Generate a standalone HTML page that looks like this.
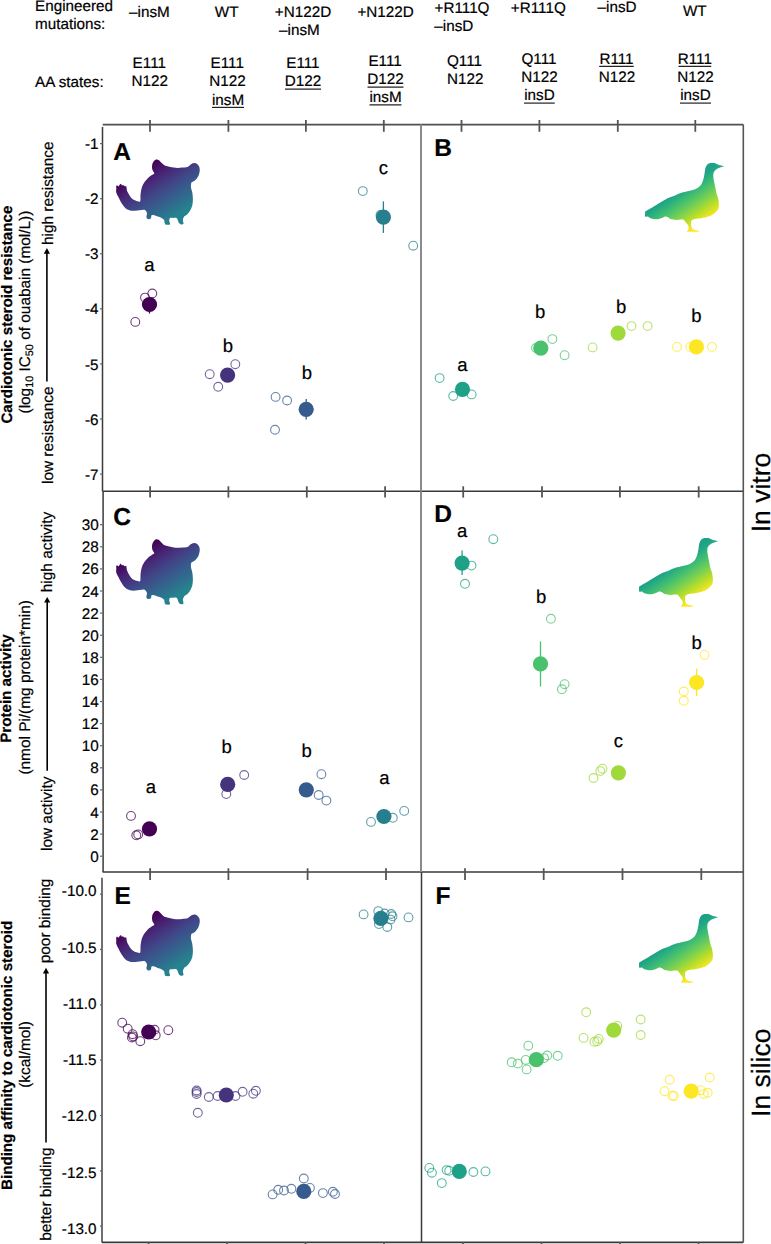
<!DOCTYPE html><html><head><meta charset="utf-8"><style>html,body{margin:0;padding:0;background:#fff;}svg{display:block;} text{font-family:"Liberation Sans", sans-serif;fill:#000;stroke:#000;stroke-width:0.2px;text-rendering:geometricPrecision;}</style></head><body>
<svg width="771" height="1244" viewBox="0 0 771 1244">
<defs>
<linearGradient id="gc" gradientUnits="userSpaceOnUse" x1="143.2" y1="169.2" x2="173.0" y2="216.6"><stop offset="0" stop-color="#440154"/><stop offset="0.233" stop-color="#482475"/><stop offset="0.465" stop-color="#414487"/><stop offset="0.698" stop-color="#355F8D"/><stop offset="0.93" stop-color="#2A788E"/><stop offset="1" stop-color="#26828E"/></linearGradient>
<linearGradient id="gg" gradientUnits="userSpaceOnUse" x1="688.8" y1="183.2" x2="711.8" y2="217.0"><stop offset="0" stop-color="#1FA187"/><stop offset="0.07" stop-color="#22A884"/><stop offset="0.30" stop-color="#44BF70"/><stop offset="0.535" stop-color="#7AD151"/><stop offset="0.767" stop-color="#BDDF26"/><stop offset="1" stop-color="#FDE725"/></linearGradient>
</defs>
<rect width="771" height="1244" fill="#fff"/>
<text x="35" y="10.7" font-size="15.25" text-anchor="start" font-weight="normal">Engineered</text>
<text x="35" y="28.6" font-size="15.25" text-anchor="start" font-weight="normal">mutations:</text>
<text x="35" y="86.8" font-size="15.25" text-anchor="start" font-weight="normal">AA states:</text>
<text x="149.4" y="17.2" font-size="15.25" text-anchor="middle" font-weight="normal">–insM</text>
<text x="149.3" y="68" font-size="15.25" text-anchor="middle" font-weight="normal">E111</text>
<text x="149.8" y="86.3" font-size="15.25" text-anchor="middle" font-weight="normal">N122</text>
<text x="226.6" y="17.2" font-size="15.25" text-anchor="middle" font-weight="normal">WT</text>
<text x="227.2" y="67.9" font-size="15.25" text-anchor="middle" font-weight="normal">E111</text>
<text x="227.5" y="86.2" font-size="15.25" text-anchor="middle" font-weight="normal">N122</text>
<text x="228" y="104.5" font-size="15.25" text-anchor="middle" font-weight="normal">insM</text>
<line x1="212" y1="107.4" x2="244" y2="107.4" stroke="#222" stroke-width="1.2"/>
<text x="303" y="16.5" font-size="15.25" text-anchor="middle" font-weight="normal">+N122D</text>
<text x="279.1" y="34.7" font-size="15.25" text-anchor="start" font-weight="normal">–insM</text>
<text x="302.9" y="68" font-size="15.25" text-anchor="middle" font-weight="normal">E111</text>
<text x="303" y="85.7" font-size="15.25" text-anchor="middle" font-weight="normal">D122</text>
<line x1="285" y1="89.2" x2="321" y2="89.2" stroke="#222" stroke-width="1.2"/>
<text x="385.6" y="16.6" font-size="15.25" text-anchor="middle" font-weight="normal">+N122D</text>
<text x="385.1" y="66.4" font-size="15.25" text-anchor="middle" font-weight="normal">E111</text>
<text x="385.5" y="84" font-size="15.25" text-anchor="middle" font-weight="normal">D122</text>
<line x1="367.5" y1="87.1" x2="403.5" y2="87.1" stroke="#222" stroke-width="1.2"/>
<text x="385.5" y="102.3" font-size="15.25" text-anchor="middle" font-weight="normal">insM</text>
<line x1="369.5" y1="104.9" x2="401.5" y2="104.9" stroke="#222" stroke-width="1.2"/>
<text x="462" y="12.7" font-size="15.25" text-anchor="middle" font-weight="normal">+R111Q</text>
<text x="434.3" y="30.7" font-size="15.25" text-anchor="start" font-weight="normal">–insD</text>
<text x="464.5" y="65.5" font-size="15.25" text-anchor="middle" font-weight="normal">Q111</text>
<text x="465.2" y="83.7" font-size="15.25" text-anchor="middle" font-weight="normal">N122</text>
<text x="538.3" y="12.6" font-size="15.25" text-anchor="middle" font-weight="normal">+R111Q</text>
<text x="539" y="63.6" font-size="15.25" text-anchor="middle" font-weight="normal">Q111</text>
<text x="539.5" y="81.7" font-size="15.25" text-anchor="middle" font-weight="normal">N122</text>
<text x="539.4" y="99.9" font-size="15.25" text-anchor="middle" font-weight="normal">insD</text>
<line x1="524" y1="103.1" x2="554.7" y2="103.1" stroke="#222" stroke-width="1.2"/>
<text x="617.1" y="11.9" font-size="15.25" text-anchor="middle" font-weight="normal">–insD</text>
<text x="616.5" y="63.6" font-size="15.25" text-anchor="middle" font-weight="normal">R111</text>
<line x1="599.2" y1="66.4" x2="633.8" y2="66.4" stroke="#222" stroke-width="1.2"/>
<text x="616.9" y="81.5" font-size="15.25" text-anchor="middle" font-weight="normal">N122</text>
<text x="694.8" y="15.8" font-size="15.25" text-anchor="middle" font-weight="normal">WT</text>
<text x="694.8" y="63.6" font-size="15.25" text-anchor="middle" font-weight="normal">R111</text>
<line x1="678.5" y1="66.4" x2="711.2" y2="66.4" stroke="#222" stroke-width="1.2"/>
<text x="695.5" y="81.5" font-size="15.25" text-anchor="middle" font-weight="normal">N122</text>
<text x="695.4" y="99.9" font-size="15.25" text-anchor="middle" font-weight="normal">insD</text>
<line x1="680" y1="103.1" x2="711" y2="103.1" stroke="#222" stroke-width="1.2"/>
<line x1="102.7" y1="124.6" x2="743.3" y2="124.6" stroke="#505050" stroke-width="1.6"/>
<line x1="102.5" y1="127" x2="102.5" y2="491.2" stroke="#3a3a3a" stroke-width="1.5"/>
<line x1="103.1" y1="491.2" x2="103.1" y2="872" stroke="#3a3a3a" stroke-width="1.5"/>
<line x1="102" y1="877.7" x2="102" y2="1242.4" stroke="#707070" stroke-width="2"/>
<line x1="102.5" y1="491.2" x2="743.3" y2="491.2" stroke="#3a3a3a" stroke-width="1.5"/>
<line x1="102.5" y1="872.1" x2="743.3" y2="872.1" stroke="#3a3a3a" stroke-width="1.5"/>
<line x1="102" y1="1242.4" x2="743.3" y2="1242.4" stroke="#3a3a3a" stroke-width="1.6"/>
<line x1="421" y1="124.6" x2="421" y2="491.2" stroke="#8a8a8a" stroke-width="2"/>
<line x1="421" y1="491.2" x2="421" y2="872" stroke="#8a8a8a" stroke-width="2"/>
<line x1="421.5" y1="872" x2="421.5" y2="1242.4" stroke="#3a3a3a" stroke-width="1.5"/>
<line x1="743.3" y1="124.6" x2="743.3" y2="1242.4" stroke="#555" stroke-width="1.6"/>
<line x1="150" y1="120" x2="150" y2="131.8" stroke="#555" stroke-width="1.8"/>
<line x1="228.4" y1="120" x2="228.4" y2="131.8" stroke="#555" stroke-width="1.8"/>
<line x1="305.9" y1="120" x2="305.9" y2="131.8" stroke="#555" stroke-width="1.8"/>
<line x1="383.8" y1="120" x2="383.8" y2="131.8" stroke="#555" stroke-width="1.8"/>
<line x1="461.5" y1="120" x2="461.5" y2="131.8" stroke="#555" stroke-width="1.8"/>
<line x1="539.4" y1="120" x2="539.4" y2="131.8" stroke="#555" stroke-width="1.8"/>
<line x1="617.8" y1="120" x2="617.8" y2="131.8" stroke="#555" stroke-width="1.8"/>
<line x1="695.3" y1="120" x2="695.3" y2="131.8" stroke="#555" stroke-width="1.8"/>
<line x1="150.1" y1="486.3" x2="150.1" y2="497.6" stroke="#555" stroke-width="1.8"/>
<line x1="228.4" y1="486.3" x2="228.4" y2="497.6" stroke="#555" stroke-width="1.8"/>
<line x1="306.8" y1="486.3" x2="306.8" y2="497.6" stroke="#555" stroke-width="1.8"/>
<line x1="385.1" y1="486.3" x2="385.1" y2="497.6" stroke="#555" stroke-width="1.8"/>
<line x1="463.2" y1="486.3" x2="463.2" y2="497.6" stroke="#555" stroke-width="1.8"/>
<line x1="542" y1="486.3" x2="542" y2="497.6" stroke="#555" stroke-width="1.8"/>
<line x1="619.9" y1="486.3" x2="619.9" y2="497.6" stroke="#555" stroke-width="1.8"/>
<line x1="698.7" y1="486.3" x2="698.7" y2="497.6" stroke="#555" stroke-width="1.8"/>
<line x1="150.1" y1="868.3" x2="150.1" y2="880" stroke="#555" stroke-width="1.8"/>
<line x1="228.4" y1="868.3" x2="228.4" y2="880" stroke="#555" stroke-width="1.8"/>
<line x1="307.6" y1="868.3" x2="307.6" y2="880" stroke="#555" stroke-width="1.8"/>
<line x1="386" y1="868.3" x2="386" y2="880" stroke="#555" stroke-width="1.8"/>
<line x1="465" y1="868.3" x2="465" y2="880" stroke="#555" stroke-width="1.8"/>
<line x1="543.7" y1="868.3" x2="543.7" y2="880" stroke="#555" stroke-width="1.8"/>
<line x1="622.5" y1="868.3" x2="622.5" y2="880" stroke="#555" stroke-width="1.8"/>
<line x1="701.3" y1="868.3" x2="701.3" y2="880" stroke="#555" stroke-width="1.8"/>
<line x1="148.6" y1="1242" x2="148.6" y2="1246" stroke="#555" stroke-width="1.8"/>
<line x1="227" y1="1242" x2="227" y2="1246" stroke="#555" stroke-width="1.8"/>
<line x1="305.5" y1="1242" x2="305.5" y2="1246" stroke="#555" stroke-width="1.8"/>
<line x1="384" y1="1242" x2="384" y2="1246" stroke="#555" stroke-width="1.8"/>
<line x1="463" y1="1242" x2="463" y2="1246" stroke="#555" stroke-width="1.8"/>
<line x1="541.5" y1="1242" x2="541.5" y2="1246" stroke="#555" stroke-width="1.8"/>
<line x1="620" y1="1242" x2="620" y2="1246" stroke="#555" stroke-width="1.8"/>
<line x1="698.5" y1="1242" x2="698.5" y2="1246" stroke="#555" stroke-width="1.8"/>
<line x1="100" y1="143.6" x2="102.5" y2="143.6" stroke="#666" stroke-width="1.2"/>
<text x="98.6" y="149.2" font-size="15.25" text-anchor="end" font-weight="normal">-1</text>
<line x1="100" y1="198.68" x2="102.5" y2="198.68" stroke="#666" stroke-width="1.2"/>
<text x="98.6" y="204.3" font-size="15.25" text-anchor="end" font-weight="normal">-2</text>
<line x1="100" y1="253.76" x2="102.5" y2="253.76" stroke="#666" stroke-width="1.2"/>
<text x="98.6" y="259.4" font-size="15.25" text-anchor="end" font-weight="normal">-3</text>
<line x1="100" y1="308.84000000000003" x2="102.5" y2="308.84000000000003" stroke="#666" stroke-width="1.2"/>
<text x="98.6" y="314.4" font-size="15.25" text-anchor="end" font-weight="normal">-4</text>
<line x1="100" y1="363.91999999999996" x2="102.5" y2="363.91999999999996" stroke="#666" stroke-width="1.2"/>
<text x="98.6" y="369.5" font-size="15.25" text-anchor="end" font-weight="normal">-5</text>
<line x1="100" y1="419.0" x2="102.5" y2="419.0" stroke="#666" stroke-width="1.2"/>
<text x="98.6" y="424.6" font-size="15.25" text-anchor="end" font-weight="normal">-6</text>
<line x1="100" y1="474.08000000000004" x2="102.5" y2="474.08000000000004" stroke="#666" stroke-width="1.2"/>
<text x="98.6" y="479.7" font-size="15.25" text-anchor="end" font-weight="normal">-7</text>
<line x1="100" y1="524.7" x2="102.5" y2="524.7" stroke="#666" stroke-width="1.2"/>
<text x="98.8" y="530.2" font-size="15.25" text-anchor="end" font-weight="normal">30</text>
<line x1="100" y1="546.8000000000001" x2="102.5" y2="546.8000000000001" stroke="#666" stroke-width="1.2"/>
<text x="98.8" y="552.3" font-size="15.25" text-anchor="end" font-weight="normal">28</text>
<line x1="100" y1="568.9000000000001" x2="102.5" y2="568.9000000000001" stroke="#666" stroke-width="1.2"/>
<text x="98.8" y="574.4" font-size="15.25" text-anchor="end" font-weight="normal">26</text>
<line x1="100" y1="591.0" x2="102.5" y2="591.0" stroke="#666" stroke-width="1.2"/>
<text x="98.8" y="596.5" font-size="15.25" text-anchor="end" font-weight="normal">24</text>
<line x1="100" y1="613.1" x2="102.5" y2="613.1" stroke="#666" stroke-width="1.2"/>
<text x="98.8" y="618.6" font-size="15.25" text-anchor="end" font-weight="normal">22</text>
<line x1="100" y1="635.2" x2="102.5" y2="635.2" stroke="#666" stroke-width="1.2"/>
<text x="98.8" y="640.7" font-size="15.25" text-anchor="end" font-weight="normal">20</text>
<line x1="100" y1="657.3000000000001" x2="102.5" y2="657.3000000000001" stroke="#666" stroke-width="1.2"/>
<text x="98.8" y="662.8" font-size="15.25" text-anchor="end" font-weight="normal">18</text>
<line x1="100" y1="679.4000000000001" x2="102.5" y2="679.4000000000001" stroke="#666" stroke-width="1.2"/>
<text x="98.8" y="684.9" font-size="15.25" text-anchor="end" font-weight="normal">16</text>
<line x1="100" y1="701.5" x2="102.5" y2="701.5" stroke="#666" stroke-width="1.2"/>
<text x="98.8" y="707.0" font-size="15.25" text-anchor="end" font-weight="normal">14</text>
<line x1="100" y1="723.6" x2="102.5" y2="723.6" stroke="#666" stroke-width="1.2"/>
<text x="98.8" y="729.1" font-size="15.25" text-anchor="end" font-weight="normal">12</text>
<line x1="100" y1="745.7" x2="102.5" y2="745.7" stroke="#666" stroke-width="1.2"/>
<text x="98.8" y="751.2" font-size="15.25" text-anchor="end" font-weight="normal">10</text>
<line x1="100" y1="767.8000000000001" x2="102.5" y2="767.8000000000001" stroke="#666" stroke-width="1.2"/>
<text x="98.8" y="773.3" font-size="15.25" text-anchor="end" font-weight="normal">8</text>
<line x1="100" y1="789.9000000000001" x2="102.5" y2="789.9000000000001" stroke="#666" stroke-width="1.2"/>
<text x="98.8" y="795.4" font-size="15.25" text-anchor="end" font-weight="normal">6</text>
<line x1="100" y1="812.0" x2="102.5" y2="812.0" stroke="#666" stroke-width="1.2"/>
<text x="98.8" y="817.5" font-size="15.25" text-anchor="end" font-weight="normal">4</text>
<line x1="100" y1="834.1000000000001" x2="102.5" y2="834.1000000000001" stroke="#666" stroke-width="1.2"/>
<text x="98.8" y="839.6" font-size="15.25" text-anchor="end" font-weight="normal">2</text>
<line x1="100" y1="856.2" x2="102.5" y2="856.2" stroke="#666" stroke-width="1.2"/>
<text x="98.8" y="861.7" font-size="15.25" text-anchor="end" font-weight="normal">0</text>
<line x1="100" y1="894.1" x2="102" y2="894.1" stroke="#666" stroke-width="1.2"/>
<text x="96.6" y="896.3" font-size="15.25" text-anchor="end" font-weight="normal">-10.0</text>
<line x1="100" y1="949.45" x2="102" y2="949.45" stroke="#666" stroke-width="1.2"/>
<text x="96.6" y="952.5" font-size="15.25" text-anchor="end" font-weight="normal">-10.5</text>
<line x1="100" y1="1004.8000000000001" x2="102" y2="1004.8000000000001" stroke="#666" stroke-width="1.2"/>
<text x="96.6" y="1008.8" font-size="15.25" text-anchor="end" font-weight="normal">-11.0</text>
<line x1="100" y1="1060.15" x2="102" y2="1060.15" stroke="#666" stroke-width="1.2"/>
<text x="96.6" y="1065.0" font-size="15.25" text-anchor="end" font-weight="normal">-11.5</text>
<line x1="100" y1="1115.5" x2="102" y2="1115.5" stroke="#666" stroke-width="1.2"/>
<text x="96.6" y="1121.3" font-size="15.25" text-anchor="end" font-weight="normal">-12.0</text>
<line x1="100" y1="1170.85" x2="102" y2="1170.85" stroke="#666" stroke-width="1.2"/>
<text x="96.6" y="1177.5" font-size="15.25" text-anchor="end" font-weight="normal">-12.5</text>
<line x1="100" y1="1226.2" x2="102" y2="1226.2" stroke="#666" stroke-width="1.2"/>
<text x="96.6" y="1233.8" font-size="15.25" text-anchor="end" font-weight="normal">-13.0</text>
<text transform="translate(12,423.6) rotate(-90)" font-size="15.15" font-weight="bold" text-anchor="start">Cardiotonic steroid resistance</text>
<text transform="translate(30.2,413.5) rotate(-90)" font-size="15.4" font-weight="normal" text-anchor="start">(log<tspan font-size="10.8" dy="3">10</tspan><tspan dy="-3"> IC</tspan><tspan font-size="10.8" dy="3">50</tspan><tspan dy="-3"> of ouabain (mol/L))</tspan></text>
<text transform="translate(52.8,484) rotate(-90)" font-size="15.4" font-weight="normal" text-anchor="start">low resistance</text>
<line x1="46.9" y1="381.4" x2="46.9" y2="252.1" stroke="#000" stroke-width="1.6"/>
<path d="M43.8,253.7 L46.9,248.1 L50.0,253.7 Z" fill="#000"/>
<text transform="translate(52.6,245) rotate(-90)" font-size="15.4" font-weight="normal" text-anchor="start">high resistance</text>
<text transform="translate(10.9,742.8) rotate(-90)" font-size="15.15" font-weight="bold" text-anchor="start">Protein activity</text>
<text transform="translate(29.5,774.6) rotate(-90)" font-size="15.4" font-weight="normal" text-anchor="start">(nmol Pi/(mg protein*min)</text>
<text transform="translate(52.3,851) rotate(-90)" font-size="15.4" font-weight="normal" text-anchor="start">low activity</text>
<line x1="47.2" y1="770.8" x2="47.2" y2="600.9" stroke="#000" stroke-width="1.6"/>
<path d="M44.1,602.5 L47.2,596.9 L50.300000000000004,602.5 Z" fill="#000"/>
<text transform="translate(52,592.2) rotate(-90)" font-size="15.4" font-weight="normal" text-anchor="start">high activity</text>
<text transform="translate(12.1,1190) rotate(-90)" font-size="15.15" font-weight="bold" text-anchor="start">Binding affinity to cardiotonic steroid</text>
<text transform="translate(29.7,1087.8) rotate(-90)" font-size="15.4" font-weight="normal" text-anchor="start">(kcal/mol)</text>
<text transform="translate(50.5,1240.8) rotate(-90)" font-size="15.4" font-weight="normal" text-anchor="start">better binding</text>
<line x1="46" y1="1142.6" x2="46" y2="971.8" stroke="#000" stroke-width="1.6"/>
<path d="M42.9,973.4 L46,967.8 L49.1,973.4 Z" fill="#000"/>
<text transform="translate(50,963.3) rotate(-90)" font-size="15.4" font-weight="normal" text-anchor="start">poor binding</text>
<text transform="translate(770.3,492.5) rotate(-90)" font-size="26.5" font-weight="normal" text-anchor="middle">In vitro</text>
<text transform="translate(770.3,1072.7) rotate(-90)" font-size="26.5" font-weight="normal" text-anchor="middle">In silico</text>
<text x="113.3" y="159.8" font-size="24.5" text-anchor="start" font-weight="bold">A</text>
<text x="434.3" y="155.7" font-size="24.5" text-anchor="start" font-weight="bold">B</text>
<text x="113.2" y="525.3" font-size="24.5" text-anchor="start" font-weight="bold">C</text>
<text x="434.2" y="521.7" font-size="24.5" text-anchor="start" font-weight="bold">D</text>
<text x="114.5" y="903.9" font-size="24.5" text-anchor="start" font-weight="bold">E</text>
<text x="435.6" y="903.9" font-size="24.5" text-anchor="start" font-weight="bold">F</text>
<path transform="translate(0,0)" d="M152.2,164.7 C152.5,163.3 153.4,161.7 154.2,160.8 C154.9,159.9 156.0,159.6 156.7,159.5 C157.4,159.4 157.9,159.7 158.5,160.0 C159.1,160.3 159.5,160.8 160.2,161.5 C160.9,162.2 161.9,163.4 162.8,164.1 C163.7,164.8 164.3,165.3 165.4,165.7 C166.5,166.1 167.9,166.4 169.3,166.7 C170.7,167.0 172.4,167.4 173.8,167.6 C175.2,167.8 176.3,168.0 177.7,168.0 C179.1,168.0 180.7,167.7 182.2,167.6 C183.7,167.5 185.7,167.5 186.8,167.3 C187.9,167.1 188.0,166.8 188.7,166.3 C189.3,165.8 189.8,164.9 190.7,164.4 C191.6,163.9 192.8,163.2 193.9,163.1 C195.0,163.0 196.3,163.4 197.2,164.1 C198.1,164.8 199.0,166.1 199.4,167.3 C199.8,168.5 199.8,169.8 199.7,171.2 C199.5,172.6 199.1,174.4 198.5,175.8 C197.9,177.2 196.8,178.6 195.9,179.6 C195.0,180.6 194.1,181.0 193.3,181.6 C192.5,182.2 191.7,181.9 191.3,182.9 C190.9,183.9 190.8,185.8 191.0,187.4 C191.2,189.0 192.0,190.7 192.3,192.6 C192.6,194.5 192.9,196.9 192.9,199.1 C192.9,201.3 192.8,203.6 192.3,205.6 C191.8,207.6 190.9,209.3 190.0,210.8 C189.1,212.3 187.8,213.7 186.8,214.7 C185.8,215.7 184.8,215.7 184.2,216.6 C183.5,217.5 183.0,218.7 182.9,219.9 C182.8,221.1 183.8,222.9 183.5,223.7 C183.2,224.4 181.7,224.5 180.9,224.4 C180.2,224.3 179.5,223.8 179.0,223.1 C178.5,222.3 178.1,220.8 177.7,219.9 C177.3,219.0 177.2,218.2 176.4,217.9 C175.7,217.6 174.3,217.9 173.2,217.9 C172.1,217.9 170.6,217.7 169.9,218.2 C169.2,218.7 169.3,220.1 169.3,221.1 C169.3,222.1 170.5,223.8 169.9,224.4 C169.3,225.0 166.9,224.9 166.0,224.7 C165.1,224.5 165.0,223.9 164.7,223.1 C164.4,222.3 164.6,220.8 164.1,219.9 C163.6,219.0 162.6,218.5 161.5,217.9 C160.4,217.3 158.8,217.0 157.6,216.6 C156.4,216.2 155.2,215.5 154.2,215.3 C153.2,215.1 152.1,214.8 151.6,215.3 C151.1,215.8 151.4,217.5 150.9,218.2 C150.4,218.8 149.1,219.3 148.3,219.2 C147.6,219.0 146.6,218.3 146.4,217.3 C146.2,216.3 147.1,214.5 147.0,213.4 C146.9,212.3 146.1,211.4 145.7,210.8 C145.3,210.2 145.0,209.9 144.4,209.8 C143.8,209.7 143.1,209.9 142.0,210.0 C140.9,210.1 139.1,210.3 137.7,210.4 C136.3,210.5 134.7,210.8 133.4,210.8 C132.1,210.8 131.0,210.6 130.0,210.4 C129.0,210.2 128.3,210.0 127.4,209.5 C126.5,209.0 125.6,208.2 124.8,207.4 C124.0,206.6 123.4,205.8 122.7,204.8 C122.0,203.8 121.3,202.7 120.6,201.4 C119.9,200.1 119.1,198.5 118.4,197.1 C117.7,195.7 116.7,194.2 116.3,192.8 C115.9,191.4 116.3,189.7 116.3,188.6 C116.3,187.5 116.1,186.5 116.3,186.0 C116.5,185.5 117.2,185.5 117.6,185.6 C117.9,185.7 118.0,186.7 118.4,186.5 C118.8,186.3 119.6,184.7 120.1,184.3 C120.6,183.9 120.9,183.9 121.2,184.1 C121.5,184.3 121.5,185.2 121.8,185.4 C122.1,185.6 122.6,184.9 123.1,185.1 C123.6,185.2 124.3,186.2 124.8,186.3 C125.3,186.5 125.8,185.7 126.1,186.0 C126.4,186.3 126.4,187.3 126.6,188.1 C126.8,188.9 126.7,189.8 127.0,190.7 C127.3,191.6 127.8,192.4 128.3,193.3 C128.8,194.2 129.4,195.4 130.0,196.3 C130.6,197.2 131.4,198.2 132.1,198.8 C132.8,199.4 133.6,199.7 134.3,200.1 C135.0,200.5 135.7,200.8 136.4,201.0 C137.1,201.2 137.8,201.4 138.5,201.4 C139.2,201.4 140.0,202.2 140.3,201.0 C140.7,199.8 140.3,196.2 140.6,193.9 C140.8,191.6 141.2,189.4 141.8,187.4 C142.4,185.4 143.3,183.8 144.4,182.2 C145.5,180.6 146.9,179.0 148.3,177.7 C149.7,176.4 151.9,175.2 152.9,174.5 C153.9,173.8 154.3,174.1 154.2,173.2 C154.1,172.3 152.5,170.7 152.2,169.3 C151.9,167.9 151.9,166.1 152.2,164.7Z" fill="url(#gc)"/>
<path transform="translate(0,379.85)" d="M152.2,164.7 C152.5,163.3 153.4,161.7 154.2,160.8 C154.9,159.9 156.0,159.6 156.7,159.5 C157.4,159.4 157.9,159.7 158.5,160.0 C159.1,160.3 159.5,160.8 160.2,161.5 C160.9,162.2 161.9,163.4 162.8,164.1 C163.7,164.8 164.3,165.3 165.4,165.7 C166.5,166.1 167.9,166.4 169.3,166.7 C170.7,167.0 172.4,167.4 173.8,167.6 C175.2,167.8 176.3,168.0 177.7,168.0 C179.1,168.0 180.7,167.7 182.2,167.6 C183.7,167.5 185.7,167.5 186.8,167.3 C187.9,167.1 188.0,166.8 188.7,166.3 C189.3,165.8 189.8,164.9 190.7,164.4 C191.6,163.9 192.8,163.2 193.9,163.1 C195.0,163.0 196.3,163.4 197.2,164.1 C198.1,164.8 199.0,166.1 199.4,167.3 C199.8,168.5 199.8,169.8 199.7,171.2 C199.5,172.6 199.1,174.4 198.5,175.8 C197.9,177.2 196.8,178.6 195.9,179.6 C195.0,180.6 194.1,181.0 193.3,181.6 C192.5,182.2 191.7,181.9 191.3,182.9 C190.9,183.9 190.8,185.8 191.0,187.4 C191.2,189.0 192.0,190.7 192.3,192.6 C192.6,194.5 192.9,196.9 192.9,199.1 C192.9,201.3 192.8,203.6 192.3,205.6 C191.8,207.6 190.9,209.3 190.0,210.8 C189.1,212.3 187.8,213.7 186.8,214.7 C185.8,215.7 184.8,215.7 184.2,216.6 C183.5,217.5 183.0,218.7 182.9,219.9 C182.8,221.1 183.8,222.9 183.5,223.7 C183.2,224.4 181.7,224.5 180.9,224.4 C180.2,224.3 179.5,223.8 179.0,223.1 C178.5,222.3 178.1,220.8 177.7,219.9 C177.3,219.0 177.2,218.2 176.4,217.9 C175.7,217.6 174.3,217.9 173.2,217.9 C172.1,217.9 170.6,217.7 169.9,218.2 C169.2,218.7 169.3,220.1 169.3,221.1 C169.3,222.1 170.5,223.8 169.9,224.4 C169.3,225.0 166.9,224.9 166.0,224.7 C165.1,224.5 165.0,223.9 164.7,223.1 C164.4,222.3 164.6,220.8 164.1,219.9 C163.6,219.0 162.6,218.5 161.5,217.9 C160.4,217.3 158.8,217.0 157.6,216.6 C156.4,216.2 155.2,215.5 154.2,215.3 C153.2,215.1 152.1,214.8 151.6,215.3 C151.1,215.8 151.4,217.5 150.9,218.2 C150.4,218.8 149.1,219.3 148.3,219.2 C147.6,219.0 146.6,218.3 146.4,217.3 C146.2,216.3 147.1,214.5 147.0,213.4 C146.9,212.3 146.1,211.4 145.7,210.8 C145.3,210.2 145.0,209.9 144.4,209.8 C143.8,209.7 143.1,209.9 142.0,210.0 C140.9,210.1 139.1,210.3 137.7,210.4 C136.3,210.5 134.7,210.8 133.4,210.8 C132.1,210.8 131.0,210.6 130.0,210.4 C129.0,210.2 128.3,210.0 127.4,209.5 C126.5,209.0 125.6,208.2 124.8,207.4 C124.0,206.6 123.4,205.8 122.7,204.8 C122.0,203.8 121.3,202.7 120.6,201.4 C119.9,200.1 119.1,198.5 118.4,197.1 C117.7,195.7 116.7,194.2 116.3,192.8 C115.9,191.4 116.3,189.7 116.3,188.6 C116.3,187.5 116.1,186.5 116.3,186.0 C116.5,185.5 117.2,185.5 117.6,185.6 C117.9,185.7 118.0,186.7 118.4,186.5 C118.8,186.3 119.6,184.7 120.1,184.3 C120.6,183.9 120.9,183.9 121.2,184.1 C121.5,184.3 121.5,185.2 121.8,185.4 C122.1,185.6 122.6,184.9 123.1,185.1 C123.6,185.2 124.3,186.2 124.8,186.3 C125.3,186.5 125.8,185.7 126.1,186.0 C126.4,186.3 126.4,187.3 126.6,188.1 C126.8,188.9 126.7,189.8 127.0,190.7 C127.3,191.6 127.8,192.4 128.3,193.3 C128.8,194.2 129.4,195.4 130.0,196.3 C130.6,197.2 131.4,198.2 132.1,198.8 C132.8,199.4 133.6,199.7 134.3,200.1 C135.0,200.5 135.7,200.8 136.4,201.0 C137.1,201.2 137.8,201.4 138.5,201.4 C139.2,201.4 140.0,202.2 140.3,201.0 C140.7,199.8 140.3,196.2 140.6,193.9 C140.8,191.6 141.2,189.4 141.8,187.4 C142.4,185.4 143.3,183.8 144.4,182.2 C145.5,180.6 146.9,179.0 148.3,177.7 C149.7,176.4 151.9,175.2 152.9,174.5 C153.9,173.8 154.3,174.1 154.2,173.2 C154.1,172.3 152.5,170.7 152.2,169.3 C151.9,167.9 151.9,166.1 152.2,164.7Z" fill="url(#gc)"/>
<path transform="translate(0,751.3)" d="M152.2,164.7 C152.5,163.3 153.4,161.7 154.2,160.8 C154.9,159.9 156.0,159.6 156.7,159.5 C157.4,159.4 157.9,159.7 158.5,160.0 C159.1,160.3 159.5,160.8 160.2,161.5 C160.9,162.2 161.9,163.4 162.8,164.1 C163.7,164.8 164.3,165.3 165.4,165.7 C166.5,166.1 167.9,166.4 169.3,166.7 C170.7,167.0 172.4,167.4 173.8,167.6 C175.2,167.8 176.3,168.0 177.7,168.0 C179.1,168.0 180.7,167.7 182.2,167.6 C183.7,167.5 185.7,167.5 186.8,167.3 C187.9,167.1 188.0,166.8 188.7,166.3 C189.3,165.8 189.8,164.9 190.7,164.4 C191.6,163.9 192.8,163.2 193.9,163.1 C195.0,163.0 196.3,163.4 197.2,164.1 C198.1,164.8 199.0,166.1 199.4,167.3 C199.8,168.5 199.8,169.8 199.7,171.2 C199.5,172.6 199.1,174.4 198.5,175.8 C197.9,177.2 196.8,178.6 195.9,179.6 C195.0,180.6 194.1,181.0 193.3,181.6 C192.5,182.2 191.7,181.9 191.3,182.9 C190.9,183.9 190.8,185.8 191.0,187.4 C191.2,189.0 192.0,190.7 192.3,192.6 C192.6,194.5 192.9,196.9 192.9,199.1 C192.9,201.3 192.8,203.6 192.3,205.6 C191.8,207.6 190.9,209.3 190.0,210.8 C189.1,212.3 187.8,213.7 186.8,214.7 C185.8,215.7 184.8,215.7 184.2,216.6 C183.5,217.5 183.0,218.7 182.9,219.9 C182.8,221.1 183.8,222.9 183.5,223.7 C183.2,224.4 181.7,224.5 180.9,224.4 C180.2,224.3 179.5,223.8 179.0,223.1 C178.5,222.3 178.1,220.8 177.7,219.9 C177.3,219.0 177.2,218.2 176.4,217.9 C175.7,217.6 174.3,217.9 173.2,217.9 C172.1,217.9 170.6,217.7 169.9,218.2 C169.2,218.7 169.3,220.1 169.3,221.1 C169.3,222.1 170.5,223.8 169.9,224.4 C169.3,225.0 166.9,224.9 166.0,224.7 C165.1,224.5 165.0,223.9 164.7,223.1 C164.4,222.3 164.6,220.8 164.1,219.9 C163.6,219.0 162.6,218.5 161.5,217.9 C160.4,217.3 158.8,217.0 157.6,216.6 C156.4,216.2 155.2,215.5 154.2,215.3 C153.2,215.1 152.1,214.8 151.6,215.3 C151.1,215.8 151.4,217.5 150.9,218.2 C150.4,218.8 149.1,219.3 148.3,219.2 C147.6,219.0 146.6,218.3 146.4,217.3 C146.2,216.3 147.1,214.5 147.0,213.4 C146.9,212.3 146.1,211.4 145.7,210.8 C145.3,210.2 145.0,209.9 144.4,209.8 C143.8,209.7 143.1,209.9 142.0,210.0 C140.9,210.1 139.1,210.3 137.7,210.4 C136.3,210.5 134.7,210.8 133.4,210.8 C132.1,210.8 131.0,210.6 130.0,210.4 C129.0,210.2 128.3,210.0 127.4,209.5 C126.5,209.0 125.6,208.2 124.8,207.4 C124.0,206.6 123.4,205.8 122.7,204.8 C122.0,203.8 121.3,202.7 120.6,201.4 C119.9,200.1 119.1,198.5 118.4,197.1 C117.7,195.7 116.7,194.2 116.3,192.8 C115.9,191.4 116.3,189.7 116.3,188.6 C116.3,187.5 116.1,186.5 116.3,186.0 C116.5,185.5 117.2,185.5 117.6,185.6 C117.9,185.7 118.0,186.7 118.4,186.5 C118.8,186.3 119.6,184.7 120.1,184.3 C120.6,183.9 120.9,183.9 121.2,184.1 C121.5,184.3 121.5,185.2 121.8,185.4 C122.1,185.6 122.6,184.9 123.1,185.1 C123.6,185.2 124.3,186.2 124.8,186.3 C125.3,186.5 125.8,185.7 126.1,186.0 C126.4,186.3 126.4,187.3 126.6,188.1 C126.8,188.9 126.7,189.8 127.0,190.7 C127.3,191.6 127.8,192.4 128.3,193.3 C128.8,194.2 129.4,195.4 130.0,196.3 C130.6,197.2 131.4,198.2 132.1,198.8 C132.8,199.4 133.6,199.7 134.3,200.1 C135.0,200.5 135.7,200.8 136.4,201.0 C137.1,201.2 137.8,201.4 138.5,201.4 C139.2,201.4 140.0,202.2 140.3,201.0 C140.7,199.8 140.3,196.2 140.6,193.9 C140.8,191.6 141.2,189.4 141.8,187.4 C142.4,185.4 143.3,183.8 144.4,182.2 C145.5,180.6 146.9,179.0 148.3,177.7 C149.7,176.4 151.9,175.2 152.9,174.5 C153.9,173.8 154.3,174.1 154.2,173.2 C154.1,172.3 152.5,170.7 152.2,169.3 C151.9,167.9 151.9,166.1 152.2,164.7Z" fill="url(#gc)"/>
<path transform="translate(0,0)" d="M645.2,212.1 C645.4,211.1 645.2,211.7 646.5,210.8 C647.8,209.9 650.8,208.2 653.0,206.9 C655.2,205.6 657.1,204.4 659.5,203.0 C661.9,201.6 664.5,199.8 667.2,198.5 C669.9,197.2 673.6,196.1 675.7,195.2 C677.8,194.3 678.2,193.9 680.0,193.3 C681.8,192.7 684.3,192.2 686.5,191.6 C688.7,191.0 691.0,190.7 693.0,190.0 C695.0,189.3 696.8,188.4 698.2,187.4 C699.6,186.4 700.5,185.5 701.4,184.2 C702.2,182.9 702.8,181.4 703.3,179.6 C703.8,177.8 704.3,175.0 704.6,173.2 C704.9,171.4 704.9,170.0 705.3,168.6 C705.7,167.2 706.3,165.6 707.2,164.7 C708.1,163.8 709.3,163.4 710.5,163.1 C711.7,162.8 713.1,162.8 714.4,163.1 C715.7,163.4 716.7,164.2 718.3,164.7 C719.9,165.2 723.6,165.9 724.1,166.3 C724.6,166.7 722.6,166.6 721.5,167.0 C720.4,167.4 718.7,168.0 717.6,168.6 C716.5,169.2 715.7,169.7 715.0,170.6 C714.3,171.5 713.6,172.3 713.4,173.8 C713.2,175.3 713.4,177.6 713.7,179.6 C714.0,181.6 714.6,183.9 715.0,186.1 C715.4,188.3 715.8,190.4 716.3,192.6 C716.8,194.8 717.9,196.9 718.3,199.1 C718.7,201.3 719.0,203.8 718.9,205.6 C718.8,207.4 718.5,208.7 717.6,210.1 C716.7,211.5 715.2,212.9 713.7,214.0 C712.2,215.1 710.5,215.9 708.5,216.6 C706.5,217.3 703.7,217.8 701.4,218.2 C699.1,218.6 696.5,218.5 694.9,218.9 C693.3,219.3 692.4,219.7 691.7,220.5 C691.1,221.3 691.0,222.5 691.0,223.7 C691.0,224.9 691.3,226.6 691.7,227.6 C692.1,228.6 692.3,229.0 693.6,229.6 C694.9,230.2 699.6,230.8 699.5,231.2 C699.4,231.6 695.1,231.8 693.0,231.8 C690.9,231.9 687.9,231.9 687.1,231.5 C686.3,231.1 688.2,230.6 688.4,229.6 C688.6,228.6 688.8,226.9 688.4,225.7 C688.0,224.5 686.5,223.4 685.8,222.4 C685.0,221.4 684.6,220.4 683.9,219.9 C683.2,219.4 682.8,219.5 681.5,219.5 C680.2,219.5 678.1,220.0 676.3,219.9 C674.5,219.8 671.9,219.3 670.5,218.9 C669.1,218.5 668.8,217.7 667.9,217.3 C667.0,216.9 666.4,216.4 665.3,216.6 C664.2,216.8 662.9,217.8 661.4,218.2 C659.9,218.6 658.0,219.2 656.2,219.2 C654.4,219.2 651.8,218.6 650.4,218.2 C649.0,217.8 648.7,216.9 647.8,216.6 C646.9,216.3 645.6,217.3 645.2,216.6 C644.8,215.8 645.0,213.1 645.2,212.1Z" fill="url(#gg)"/>
<path transform="translate(-6,375)" d="M645.2,212.1 C645.4,211.1 645.2,211.7 646.5,210.8 C647.8,209.9 650.8,208.2 653.0,206.9 C655.2,205.6 657.1,204.4 659.5,203.0 C661.9,201.6 664.5,199.8 667.2,198.5 C669.9,197.2 673.6,196.1 675.7,195.2 C677.8,194.3 678.2,193.9 680.0,193.3 C681.8,192.7 684.3,192.2 686.5,191.6 C688.7,191.0 691.0,190.7 693.0,190.0 C695.0,189.3 696.8,188.4 698.2,187.4 C699.6,186.4 700.5,185.5 701.4,184.2 C702.2,182.9 702.8,181.4 703.3,179.6 C703.8,177.8 704.3,175.0 704.6,173.2 C704.9,171.4 704.9,170.0 705.3,168.6 C705.7,167.2 706.3,165.6 707.2,164.7 C708.1,163.8 709.3,163.4 710.5,163.1 C711.7,162.8 713.1,162.8 714.4,163.1 C715.7,163.4 716.7,164.2 718.3,164.7 C719.9,165.2 723.6,165.9 724.1,166.3 C724.6,166.7 722.6,166.6 721.5,167.0 C720.4,167.4 718.7,168.0 717.6,168.6 C716.5,169.2 715.7,169.7 715.0,170.6 C714.3,171.5 713.6,172.3 713.4,173.8 C713.2,175.3 713.4,177.6 713.7,179.6 C714.0,181.6 714.6,183.9 715.0,186.1 C715.4,188.3 715.8,190.4 716.3,192.6 C716.8,194.8 717.9,196.9 718.3,199.1 C718.7,201.3 719.0,203.8 718.9,205.6 C718.8,207.4 718.5,208.7 717.6,210.1 C716.7,211.5 715.2,212.9 713.7,214.0 C712.2,215.1 710.5,215.9 708.5,216.6 C706.5,217.3 703.7,217.8 701.4,218.2 C699.1,218.6 696.5,218.5 694.9,218.9 C693.3,219.3 692.4,219.7 691.7,220.5 C691.1,221.3 691.0,222.5 691.0,223.7 C691.0,224.9 691.3,226.6 691.7,227.6 C692.1,228.6 692.3,229.0 693.6,229.6 C694.9,230.2 699.6,230.8 699.5,231.2 C699.4,231.6 695.1,231.8 693.0,231.8 C690.9,231.9 687.9,231.9 687.1,231.5 C686.3,231.1 688.2,230.6 688.4,229.6 C688.6,228.6 688.8,226.9 688.4,225.7 C688.0,224.5 686.5,223.4 685.8,222.4 C685.0,221.4 684.6,220.4 683.9,219.9 C683.2,219.4 682.8,219.5 681.5,219.5 C680.2,219.5 678.1,220.0 676.3,219.9 C674.5,219.8 671.9,219.3 670.5,218.9 C669.1,218.5 668.8,217.7 667.9,217.3 C667.0,216.9 666.4,216.4 665.3,216.6 C664.2,216.8 662.9,217.8 661.4,218.2 C659.9,218.6 658.0,219.2 656.2,219.2 C654.4,219.2 651.8,218.6 650.4,218.2 C649.0,217.8 648.7,216.9 647.8,216.6 C646.9,216.3 645.6,217.3 645.2,216.6 C644.8,215.8 645.0,213.1 645.2,212.1Z" fill="url(#gg)"/>
<path transform="translate(-6,751)" d="M645.2,212.1 C645.4,211.1 645.2,211.7 646.5,210.8 C647.8,209.9 650.8,208.2 653.0,206.9 C655.2,205.6 657.1,204.4 659.5,203.0 C661.9,201.6 664.5,199.8 667.2,198.5 C669.9,197.2 673.6,196.1 675.7,195.2 C677.8,194.3 678.2,193.9 680.0,193.3 C681.8,192.7 684.3,192.2 686.5,191.6 C688.7,191.0 691.0,190.7 693.0,190.0 C695.0,189.3 696.8,188.4 698.2,187.4 C699.6,186.4 700.5,185.5 701.4,184.2 C702.2,182.9 702.8,181.4 703.3,179.6 C703.8,177.8 704.3,175.0 704.6,173.2 C704.9,171.4 704.9,170.0 705.3,168.6 C705.7,167.2 706.3,165.6 707.2,164.7 C708.1,163.8 709.3,163.4 710.5,163.1 C711.7,162.8 713.1,162.8 714.4,163.1 C715.7,163.4 716.7,164.2 718.3,164.7 C719.9,165.2 723.6,165.9 724.1,166.3 C724.6,166.7 722.6,166.6 721.5,167.0 C720.4,167.4 718.7,168.0 717.6,168.6 C716.5,169.2 715.7,169.7 715.0,170.6 C714.3,171.5 713.6,172.3 713.4,173.8 C713.2,175.3 713.4,177.6 713.7,179.6 C714.0,181.6 714.6,183.9 715.0,186.1 C715.4,188.3 715.8,190.4 716.3,192.6 C716.8,194.8 717.9,196.9 718.3,199.1 C718.7,201.3 719.0,203.8 718.9,205.6 C718.8,207.4 718.5,208.7 717.6,210.1 C716.7,211.5 715.2,212.9 713.7,214.0 C712.2,215.1 710.5,215.9 708.5,216.6 C706.5,217.3 703.7,217.8 701.4,218.2 C699.1,218.6 696.5,218.5 694.9,218.9 C693.3,219.3 692.4,219.7 691.7,220.5 C691.1,221.3 691.0,222.5 691.0,223.7 C691.0,224.9 691.3,226.6 691.7,227.6 C692.1,228.6 692.3,229.0 693.6,229.6 C694.9,230.2 699.6,230.8 699.5,231.2 C699.4,231.6 695.1,231.8 693.0,231.8 C690.9,231.9 687.9,231.9 687.1,231.5 C686.3,231.1 688.2,230.6 688.4,229.6 C688.6,228.6 688.8,226.9 688.4,225.7 C688.0,224.5 686.5,223.4 685.8,222.4 C685.0,221.4 684.6,220.4 683.9,219.9 C683.2,219.4 682.8,219.5 681.5,219.5 C680.2,219.5 678.1,220.0 676.3,219.9 C674.5,219.8 671.9,219.3 670.5,218.9 C669.1,218.5 668.8,217.7 667.9,217.3 C667.0,216.9 666.4,216.4 665.3,216.6 C664.2,216.8 662.9,217.8 661.4,218.2 C659.9,218.6 658.0,219.2 656.2,219.2 C654.4,219.2 651.8,218.6 650.4,218.2 C649.0,217.8 648.7,216.9 647.8,216.6 C646.9,216.3 645.6,217.3 645.2,216.6 C644.8,215.8 645.0,213.1 645.2,212.1Z" fill="url(#gg)"/>
<circle cx="152.3" cy="293.5" r="4.4" fill="none" stroke="#440154" stroke-width="1.1" stroke-opacity="0.75"/>
<circle cx="145" cy="297.6" r="4.4" fill="none" stroke="#440154" stroke-width="1.1" stroke-opacity="0.75"/>
<circle cx="135.3" cy="321.9" r="4.4" fill="none" stroke="#440154" stroke-width="1.1" stroke-opacity="0.75"/>
<line x1="149.5" y1="297" x2="149.5" y2="313.5" stroke="#440154" stroke-width="1.3"/>
<circle cx="149.5" cy="304.5" r="7.6" fill="#440154"/>
<text x="149.4" y="271" font-size="18.5" text-anchor="middle" font-weight="normal">a</text>
<circle cx="209.7" cy="374.2" r="4.4" fill="none" stroke="#46337E" stroke-width="1.1" stroke-opacity="0.75"/>
<circle cx="235.3" cy="364.2" r="4.4" fill="none" stroke="#46337E" stroke-width="1.1" stroke-opacity="0.75"/>
<circle cx="218.2" cy="386.8" r="4.4" fill="none" stroke="#46337E" stroke-width="1.1" stroke-opacity="0.75"/>
<circle cx="227.6" cy="375.1" r="7.6" fill="#46337E"/>
<text x="228" y="352" font-size="18.5" text-anchor="middle" font-weight="normal">b</text>
<circle cx="275.6" cy="396.9" r="4.4" fill="none" stroke="#365C8D" stroke-width="1.1" stroke-opacity="0.75"/>
<circle cx="287.1" cy="400.5" r="4.4" fill="none" stroke="#365C8D" stroke-width="1.1" stroke-opacity="0.75"/>
<circle cx="275" cy="429.8" r="4.4" fill="none" stroke="#365C8D" stroke-width="1.1" stroke-opacity="0.75"/>
<line x1="306.2" y1="398.9" x2="306.2" y2="419.4" stroke="#365C8D" stroke-width="1.3"/>
<circle cx="306.2" cy="409.3" r="7.6" fill="#365C8D"/>
<text x="307" y="378.5" font-size="18.5" text-anchor="middle" font-weight="normal">b</text>
<circle cx="362.8" cy="191.1" r="4.4" fill="none" stroke="#277F8E" stroke-width="1.1" stroke-opacity="0.75"/>
<circle cx="413.2" cy="245.7" r="4.4" fill="none" stroke="#277F8E" stroke-width="1.1" stroke-opacity="0.75"/>
<circle cx="380.5" cy="215" r="4.4" fill="none" stroke="#277F8E" stroke-width="1.1" stroke-opacity="0.75"/>
<line x1="383.4" y1="201.4" x2="383.4" y2="232.9" stroke="#277F8E" stroke-width="1.3"/>
<circle cx="383.4" cy="217.1" r="7.6" fill="#277F8E"/>
<text x="383.4" y="173.7" font-size="18.5" text-anchor="middle" font-weight="normal">c</text>
<circle cx="439.6" cy="378.1" r="4.4" fill="none" stroke="#1FA187" stroke-width="1.1" stroke-opacity="0.75"/>
<circle cx="453.2" cy="396" r="4.4" fill="none" stroke="#1FA187" stroke-width="1.1" stroke-opacity="0.75"/>
<circle cx="471.6" cy="394.4" r="4.4" fill="none" stroke="#1FA187" stroke-width="1.1" stroke-opacity="0.75"/>
<circle cx="462.5" cy="389.3" r="7.6" fill="#1FA187"/>
<text x="462.5" y="371" font-size="18.5" text-anchor="middle" font-weight="normal">a</text>
<circle cx="552.4" cy="339.1" r="4.4" fill="none" stroke="#4AC16D" stroke-width="1.1" stroke-opacity="0.75"/>
<circle cx="564.6" cy="355.2" r="4.4" fill="none" stroke="#4AC16D" stroke-width="1.1" stroke-opacity="0.75"/>
<circle cx="536" cy="348" r="4.4" fill="none" stroke="#4AC16D" stroke-width="1.1" stroke-opacity="0.75"/>
<circle cx="540.8" cy="348.2" r="7.6" fill="#4AC16D"/>
<text x="540.2" y="317.8" font-size="18.5" text-anchor="middle" font-weight="normal">b</text>
<circle cx="592.6" cy="347.4" r="4.4" fill="none" stroke="#9FDA3A" stroke-width="1.1" stroke-opacity="0.75"/>
<circle cx="631.5" cy="326.1" r="4.4" fill="none" stroke="#9FDA3A" stroke-width="1.1" stroke-opacity="0.75"/>
<circle cx="647.6" cy="326.1" r="4.4" fill="none" stroke="#9FDA3A" stroke-width="1.1" stroke-opacity="0.75"/>
<circle cx="618.1" cy="333.1" r="7.6" fill="#9FDA3A"/>
<text x="621.2" y="312.6" font-size="18.5" text-anchor="middle" font-weight="normal">b</text>
<circle cx="677" cy="346.9" r="4.4" fill="none" stroke="#FDE725" stroke-width="1.1" stroke-opacity="0.75"/>
<circle cx="712" cy="346.9" r="4.4" fill="none" stroke="#FDE725" stroke-width="1.1" stroke-opacity="0.75"/>
<circle cx="690.2" cy="346.9" r="4.4" fill="none" stroke="#FDE725" stroke-width="1.1" stroke-opacity="0.75"/>
<circle cx="696.4" cy="346.9" r="7.6" fill="#FDE725"/>
<text x="696.4" y="321.7" font-size="18.5" text-anchor="middle" font-weight="normal">b</text>
<circle cx="131" cy="815.9" r="4.4" fill="none" stroke="#440154" stroke-width="1.1" stroke-opacity="0.75"/>
<circle cx="136.3" cy="835.3" r="4.4" fill="none" stroke="#440154" stroke-width="1.1" stroke-opacity="0.75"/>
<circle cx="138.2" cy="834.4" r="4.4" fill="none" stroke="#440154" stroke-width="1.1" stroke-opacity="0.75"/>
<circle cx="149.5" cy="828.9" r="7.6" fill="#440154"/>
<text x="150.9" y="792.5" font-size="18.5" text-anchor="middle" font-weight="normal">a</text>
<circle cx="244.2" cy="775" r="4.4" fill="none" stroke="#46337E" stroke-width="1.1" stroke-opacity="0.75"/>
<circle cx="226.3" cy="794.1" r="4.4" fill="none" stroke="#46337E" stroke-width="1.1" stroke-opacity="0.75"/>
<circle cx="227.7" cy="784.4" r="7.6" fill="#46337E"/>
<text x="226.7" y="752.6" font-size="18.5" text-anchor="middle" font-weight="normal">b</text>
<circle cx="321.4" cy="774.2" r="4.4" fill="none" stroke="#365C8D" stroke-width="1.1" stroke-opacity="0.75"/>
<circle cx="318.7" cy="795" r="4.4" fill="none" stroke="#365C8D" stroke-width="1.1" stroke-opacity="0.75"/>
<circle cx="326.4" cy="800.6" r="4.4" fill="none" stroke="#365C8D" stroke-width="1.1" stroke-opacity="0.75"/>
<circle cx="306.3" cy="789.8" r="7.6" fill="#365C8D"/>
<text x="306.7" y="757" font-size="18.5" text-anchor="middle" font-weight="normal">b</text>
<circle cx="371" cy="821.9" r="4.4" fill="none" stroke="#277F8E" stroke-width="1.1" stroke-opacity="0.75"/>
<circle cx="392.8" cy="817.8" r="4.4" fill="none" stroke="#277F8E" stroke-width="1.1" stroke-opacity="0.75"/>
<circle cx="404.2" cy="810.9" r="4.4" fill="none" stroke="#277F8E" stroke-width="1.1" stroke-opacity="0.75"/>
<circle cx="383.9" cy="816.5" r="7.6" fill="#277F8E"/>
<text x="384.5" y="784.4" font-size="18.5" text-anchor="middle" font-weight="normal">a</text>
<circle cx="493.3" cy="539.2" r="4.4" fill="none" stroke="#1FA187" stroke-width="1.1" stroke-opacity="0.75"/>
<circle cx="471.5" cy="565.6" r="4.4" fill="none" stroke="#1FA187" stroke-width="1.1" stroke-opacity="0.75"/>
<circle cx="465" cy="583.8" r="4.4" fill="none" stroke="#1FA187" stroke-width="1.1" stroke-opacity="0.75"/>
<line x1="462.1" y1="550.6" x2="462.1" y2="574.9" stroke="#1FA187" stroke-width="1.3"/>
<circle cx="462.1" cy="563.1" r="7.6" fill="#1FA187"/>
<text x="462.1" y="536.5" font-size="18.5" text-anchor="middle" font-weight="normal">a</text>
<circle cx="550.9" cy="618.8" r="4.4" fill="none" stroke="#4AC16D" stroke-width="1.1" stroke-opacity="0.75"/>
<circle cx="564.6" cy="684.2" r="4.4" fill="none" stroke="#4AC16D" stroke-width="1.1" stroke-opacity="0.75"/>
<circle cx="561.9" cy="689.3" r="4.4" fill="none" stroke="#4AC16D" stroke-width="1.1" stroke-opacity="0.75"/>
<line x1="540.5" y1="641.4" x2="540.5" y2="686.5" stroke="#4AC16D" stroke-width="1.3"/>
<circle cx="540.5" cy="663.9" r="7.6" fill="#4AC16D"/>
<text x="541.2" y="603.2" font-size="18.5" text-anchor="middle" font-weight="normal">b</text>
<circle cx="593.5" cy="778" r="4.4" fill="none" stroke="#9FDA3A" stroke-width="1.1" stroke-opacity="0.75"/>
<circle cx="600.3" cy="771.1" r="4.4" fill="none" stroke="#9FDA3A" stroke-width="1.1" stroke-opacity="0.75"/>
<circle cx="602.4" cy="768.7" r="4.4" fill="none" stroke="#9FDA3A" stroke-width="1.1" stroke-opacity="0.75"/>
<circle cx="618.4" cy="772.8" r="7.6" fill="#9FDA3A"/>
<text x="618.4" y="746.9" font-size="18.5" text-anchor="middle" font-weight="normal">c</text>
<circle cx="704.5" cy="654.9" r="4.4" fill="none" stroke="#FDE725" stroke-width="1.1" stroke-opacity="0.75"/>
<circle cx="683.8" cy="691.5" r="4.4" fill="none" stroke="#FDE725" stroke-width="1.1" stroke-opacity="0.75"/>
<circle cx="683.8" cy="700.8" r="4.4" fill="none" stroke="#FDE725" stroke-width="1.1" stroke-opacity="0.75"/>
<line x1="696.6" y1="668.6" x2="696.6" y2="696" stroke="#FDE725" stroke-width="1.3"/>
<circle cx="696.6" cy="682.5" r="7.6" fill="#FDE725"/>
<text x="696.6" y="649.3" font-size="18.5" text-anchor="middle" font-weight="normal">b</text>
<circle cx="122.2" cy="1022.7" r="4.4" fill="none" stroke="#440154" stroke-width="1.1" stroke-opacity="0.75"/>
<circle cx="127.7" cy="1028.7" r="4.4" fill="none" stroke="#440154" stroke-width="1.1" stroke-opacity="0.75"/>
<circle cx="132.6" cy="1034.2" r="4.4" fill="none" stroke="#440154" stroke-width="1.1" stroke-opacity="0.75"/>
<circle cx="131.9" cy="1037.5" r="4.4" fill="none" stroke="#440154" stroke-width="1.1" stroke-opacity="0.75"/>
<circle cx="133.2" cy="1036.4" r="4.4" fill="none" stroke="#440154" stroke-width="1.1" stroke-opacity="0.75"/>
<circle cx="140.3" cy="1041.2" r="4.4" fill="none" stroke="#440154" stroke-width="1.1" stroke-opacity="0.75"/>
<circle cx="154.6" cy="1029.8" r="4.4" fill="none" stroke="#440154" stroke-width="1.1" stroke-opacity="0.75"/>
<circle cx="155.7" cy="1035.3" r="4.4" fill="none" stroke="#440154" stroke-width="1.1" stroke-opacity="0.75"/>
<circle cx="168.3" cy="1030.2" r="4.4" fill="none" stroke="#440154" stroke-width="1.1" stroke-opacity="0.75"/>
<circle cx="148.7" cy="1032" r="7.6" fill="#440154"/>
<circle cx="196.6" cy="1090.5" r="4.4" fill="none" stroke="#46337E" stroke-width="1.1" stroke-opacity="0.75"/>
<circle cx="196.6" cy="1092" r="4.4" fill="none" stroke="#46337E" stroke-width="1.1" stroke-opacity="0.75"/>
<circle cx="196.6" cy="1094" r="4.4" fill="none" stroke="#46337E" stroke-width="1.1" stroke-opacity="0.75"/>
<circle cx="208.8" cy="1097" r="4.4" fill="none" stroke="#46337E" stroke-width="1.1" stroke-opacity="0.75"/>
<circle cx="217.6" cy="1096" r="4.4" fill="none" stroke="#46337E" stroke-width="1.1" stroke-opacity="0.75"/>
<circle cx="235.5" cy="1096" r="4.4" fill="none" stroke="#46337E" stroke-width="1.1" stroke-opacity="0.75"/>
<circle cx="242.6" cy="1091.8" r="4.4" fill="none" stroke="#46337E" stroke-width="1.1" stroke-opacity="0.75"/>
<circle cx="253.3" cy="1093.7" r="4.4" fill="none" stroke="#46337E" stroke-width="1.1" stroke-opacity="0.75"/>
<circle cx="255.9" cy="1090.8" r="4.4" fill="none" stroke="#46337E" stroke-width="1.1" stroke-opacity="0.75"/>
<circle cx="197.8" cy="1112.8" r="4.4" fill="none" stroke="#46337E" stroke-width="1.1" stroke-opacity="0.75"/>
<circle cx="226.3" cy="1095" r="7.6" fill="#46337E"/>
<circle cx="303.8" cy="1178.5" r="4.4" fill="none" stroke="#365C8D" stroke-width="1.1" stroke-opacity="0.75"/>
<circle cx="309.9" cy="1187.9" r="4.4" fill="none" stroke="#365C8D" stroke-width="1.1" stroke-opacity="0.75"/>
<circle cx="291.4" cy="1188.8" r="4.4" fill="none" stroke="#365C8D" stroke-width="1.1" stroke-opacity="0.75"/>
<circle cx="284" cy="1190.5" r="4.4" fill="none" stroke="#365C8D" stroke-width="1.1" stroke-opacity="0.75"/>
<circle cx="278.2" cy="1189.8" r="4.4" fill="none" stroke="#365C8D" stroke-width="1.1" stroke-opacity="0.75"/>
<circle cx="272.6" cy="1194.4" r="4.4" fill="none" stroke="#365C8D" stroke-width="1.1" stroke-opacity="0.75"/>
<circle cx="322.9" cy="1193.1" r="4.4" fill="none" stroke="#365C8D" stroke-width="1.1" stroke-opacity="0.75"/>
<circle cx="332.9" cy="1191.8" r="4.4" fill="none" stroke="#365C8D" stroke-width="1.1" stroke-opacity="0.75"/>
<circle cx="335" cy="1194" r="4.4" fill="none" stroke="#365C8D" stroke-width="1.1" stroke-opacity="0.75"/>
<circle cx="303.8" cy="1191.4" r="7.6" fill="#365C8D"/>
<circle cx="363.6" cy="914.4" r="4.4" fill="none" stroke="#277F8E" stroke-width="1.1" stroke-opacity="0.75"/>
<circle cx="408.5" cy="917.4" r="4.4" fill="none" stroke="#277F8E" stroke-width="1.1" stroke-opacity="0.75"/>
<circle cx="378.3" cy="911.1" r="4.4" fill="none" stroke="#277F8E" stroke-width="1.1" stroke-opacity="0.75"/>
<circle cx="384.7" cy="913.5" r="4.4" fill="none" stroke="#277F8E" stroke-width="1.1" stroke-opacity="0.75"/>
<circle cx="391.2" cy="914" r="4.4" fill="none" stroke="#277F8E" stroke-width="1.1" stroke-opacity="0.75"/>
<circle cx="392.5" cy="916.3" r="4.4" fill="none" stroke="#277F8E" stroke-width="1.1" stroke-opacity="0.75"/>
<circle cx="390.6" cy="919.6" r="4.4" fill="none" stroke="#277F8E" stroke-width="1.1" stroke-opacity="0.75"/>
<circle cx="387.3" cy="927" r="4.4" fill="none" stroke="#277F8E" stroke-width="1.1" stroke-opacity="0.75"/>
<circle cx="378.9" cy="924.1" r="4.4" fill="none" stroke="#277F8E" stroke-width="1.1" stroke-opacity="0.75"/>
<circle cx="380.9" cy="918.3" r="7.6" fill="#277F8E"/>
<circle cx="429.3" cy="1167.9" r="4.4" fill="none" stroke="#1FA187" stroke-width="1.1" stroke-opacity="0.75"/>
<circle cx="431.9" cy="1172.7" r="4.4" fill="none" stroke="#1FA187" stroke-width="1.1" stroke-opacity="0.75"/>
<circle cx="441.8" cy="1183.1" r="4.4" fill="none" stroke="#1FA187" stroke-width="1.1" stroke-opacity="0.75"/>
<circle cx="446.6" cy="1170.1" r="4.4" fill="none" stroke="#1FA187" stroke-width="1.1" stroke-opacity="0.75"/>
<circle cx="449.2" cy="1170.8" r="4.4" fill="none" stroke="#1FA187" stroke-width="1.1" stroke-opacity="0.75"/>
<circle cx="473.4" cy="1172" r="4.4" fill="none" stroke="#1FA187" stroke-width="1.1" stroke-opacity="0.75"/>
<circle cx="485.5" cy="1171.4" r="4.4" fill="none" stroke="#1FA187" stroke-width="1.1" stroke-opacity="0.75"/>
<circle cx="459.3" cy="1171.4" r="7.6" fill="#1FA187"/>
<circle cx="528.3" cy="1045.7" r="4.4" fill="none" stroke="#4AC16D" stroke-width="1.1" stroke-opacity="0.75"/>
<circle cx="511.7" cy="1062.3" r="4.4" fill="none" stroke="#4AC16D" stroke-width="1.1" stroke-opacity="0.75"/>
<circle cx="517.9" cy="1063.6" r="4.4" fill="none" stroke="#4AC16D" stroke-width="1.1" stroke-opacity="0.75"/>
<circle cx="525.7" cy="1059.9" r="4.4" fill="none" stroke="#4AC16D" stroke-width="1.1" stroke-opacity="0.75"/>
<circle cx="526.6" cy="1069.4" r="4.4" fill="none" stroke="#4AC16D" stroke-width="1.1" stroke-opacity="0.75"/>
<circle cx="544.1" cy="1058.1" r="4.4" fill="none" stroke="#4AC16D" stroke-width="1.1" stroke-opacity="0.75"/>
<circle cx="547.3" cy="1055.5" r="4.4" fill="none" stroke="#4AC16D" stroke-width="1.1" stroke-opacity="0.75"/>
<circle cx="557.7" cy="1055.8" r="4.4" fill="none" stroke="#4AC16D" stroke-width="1.1" stroke-opacity="0.75"/>
<circle cx="536.3" cy="1059.7" r="7.6" fill="#4AC16D"/>
<circle cx="586.2" cy="1012.3" r="4.4" fill="none" stroke="#9FDA3A" stroke-width="1.1" stroke-opacity="0.75"/>
<circle cx="583.6" cy="1037.9" r="4.4" fill="none" stroke="#9FDA3A" stroke-width="1.1" stroke-opacity="0.75"/>
<circle cx="594.4" cy="1041.8" r="4.4" fill="none" stroke="#9FDA3A" stroke-width="1.1" stroke-opacity="0.75"/>
<circle cx="597.2" cy="1041.2" r="4.4" fill="none" stroke="#9FDA3A" stroke-width="1.1" stroke-opacity="0.75"/>
<circle cx="598.8" cy="1038.9" r="4.4" fill="none" stroke="#9FDA3A" stroke-width="1.1" stroke-opacity="0.75"/>
<circle cx="617.3" cy="1025.9" r="4.4" fill="none" stroke="#9FDA3A" stroke-width="1.1" stroke-opacity="0.75"/>
<circle cx="640.7" cy="1019.5" r="4.4" fill="none" stroke="#9FDA3A" stroke-width="1.1" stroke-opacity="0.75"/>
<circle cx="640.7" cy="1035" r="4.4" fill="none" stroke="#9FDA3A" stroke-width="1.1" stroke-opacity="0.75"/>
<circle cx="613.7" cy="1030.1" r="7.6" fill="#9FDA3A"/>
<circle cx="669.7" cy="1079.8" r="4.4" fill="none" stroke="#FDE725" stroke-width="1.1" stroke-opacity="0.75"/>
<circle cx="664.5" cy="1091.2" r="4.4" fill="none" stroke="#FDE725" stroke-width="1.1" stroke-opacity="0.75"/>
<circle cx="672.3" cy="1095.7" r="4.4" fill="none" stroke="#FDE725" stroke-width="1.1" stroke-opacity="0.75"/>
<circle cx="674" cy="1096" r="4.4" fill="none" stroke="#FDE725" stroke-width="1.1" stroke-opacity="0.75"/>
<circle cx="709.7" cy="1077.5" r="4.4" fill="none" stroke="#FDE725" stroke-width="1.1" stroke-opacity="0.75"/>
<circle cx="700.6" cy="1090.2" r="4.4" fill="none" stroke="#FDE725" stroke-width="1.1" stroke-opacity="0.75"/>
<circle cx="703.8" cy="1094.1" r="4.4" fill="none" stroke="#FDE725" stroke-width="1.1" stroke-opacity="0.75"/>
<circle cx="707.7" cy="1092.8" r="4.4" fill="none" stroke="#FDE725" stroke-width="1.1" stroke-opacity="0.75"/>
<circle cx="691.2" cy="1091.2" r="7.6" fill="#FDE725"/>
</svg></body></html>
